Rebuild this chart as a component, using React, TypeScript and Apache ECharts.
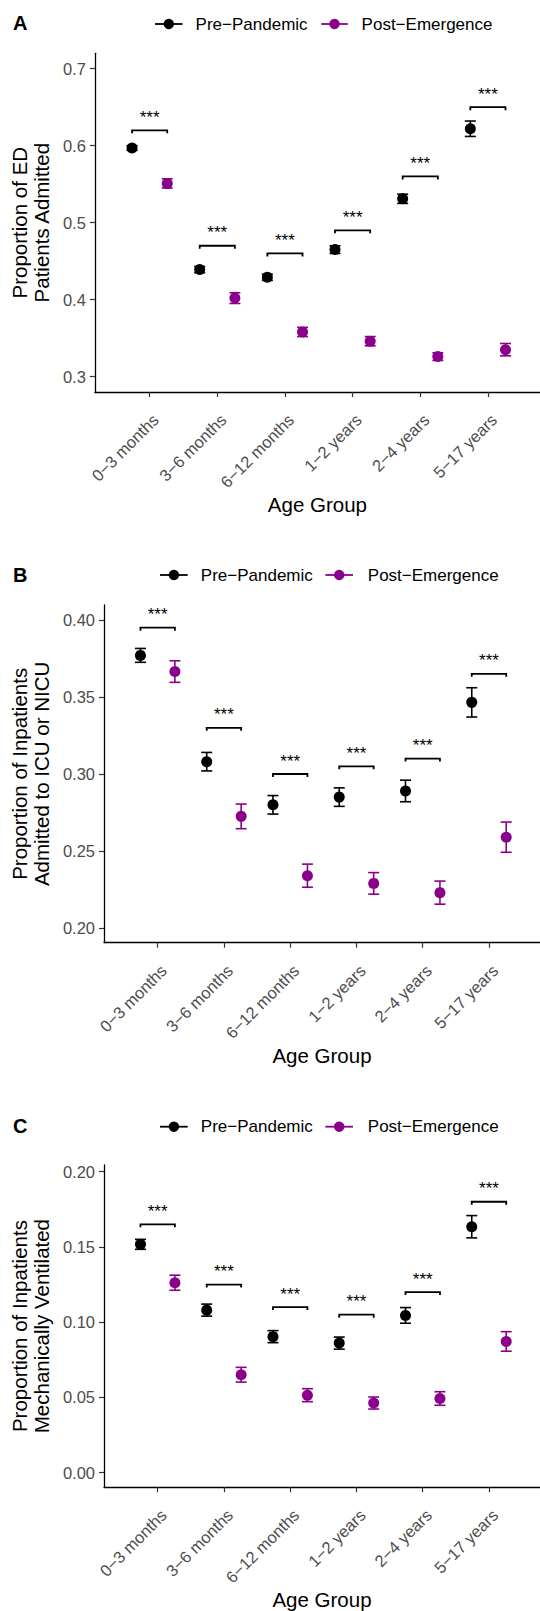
import React, { useEffect, useRef } from 'react';
import * as echarts from 'echarts';

// ---------- data ----------
const AGE_GROUPS = ['0−3 months', '3−6 months', '6−12 months', '1−2 years', '2−4 years', '5−17 years'];
const LEGEND_LABELS = ['Pre−Pandemic', 'Post−Emergence'];
const X_POSITIONS = [1, 2, 3, 4, 5, 6];

const A_PRE = [0.597, 0.439, 0.429, 0.465, 0.531, 0.622];
const A_PRE_ERR = [0.003, 0.004, 0.004, 0.005, 0.006, 0.010];
const A_POST = [0.551, 0.402, 0.358, 0.346, 0.326, 0.335];
const A_POST_ERR = [0.006, 0.007, 0.006, 0.006, 0.005, 0.008];
const A_BRACKETS = [0.62, 0.47, 0.46, 0.49, 0.56, 0.65];
const A_TICKS = [0.3, 0.4, 0.5, 0.6, 0.7];

const B_PRE = [0.377, 0.308, 0.280, 0.285, 0.289, 0.3465];
const B_PRE_ERR = [0.0045, 0.006, 0.006, 0.006, 0.007, 0.0095];
const B_POST = [0.3665, 0.2725, 0.234, 0.229, 0.223, 0.259];
const B_POST_ERR = [0.007, 0.008, 0.0075, 0.007, 0.0075, 0.0098];
const B_BRACKETS = [0.395, 0.33, 0.30, 0.305, 0.31, 0.365];
const B_TICKS = [0.2, 0.25, 0.3, 0.35, 0.4];

const C_PRE = [0.1517, 0.108, 0.0904, 0.0861, 0.1045, 0.1634];
const C_PRE_ERR = [0.0033, 0.004, 0.004, 0.004, 0.0052, 0.0074];
const C_POST = [0.1262, 0.0651, 0.0515, 0.0463, 0.0493, 0.0872];
const C_POST_ERR = [0.005, 0.0049, 0.0043, 0.004, 0.0045, 0.0065];
const C_BRACKETS = [0.165, 0.125, 0.11, 0.105, 0.12, 0.18];
const C_TICKS = [0, 0.05, 0.1, 0.15, 0.2];

const SIG_LABEL = '***';

// ---------- styling ----------
const FONT = '"Liberation Sans", Arial, Helvetica, sans-serif';
const PRE_COLOR = '#000000';
const POST_COLOR = '#8B008B';
const DODGE = 0.26;

const PANELS = [
  {
    letter: 'A', title: 'Proportion of ED\nPatients Admitted',
    pre: A_PRE, preErr: A_PRE_ERR, post: A_POST, postErr: A_POST_ERR, brackets: A_BRACKETS,
    ticks: A_TICKS, decimals: 1, yMin: 0.28, yMax: 0.72,
    left: 92.3, top: 53.3, height: 338.7, nameGapY: 39,
    legendY: 24, letterY: 24, legX: [155, 182.5, 168.8, 195.6, 321.3, 347.8, 334.5, 361.6],
  },
  {
    letter: 'B', title: 'Proportion of Inpatients\nAdmitted to ICU or NICU',
    pre: B_PRE, preErr: B_PRE_ERR, post: B_POST, postErr: B_POST_ERR, brackets: B_BRACKETS,
    ticks: B_TICKS, decimals: 2, yMin: 0.1905, yMax: 0.4097,
    left: 102.3, top: 605, height: 337.7, nameGapY: 49,
    legendY: 575, letterY: 575.5, legX: [160, 187.7, 173.9, 200.8, 325.4, 353, 339.2, 367.8],
  },
  {
    letter: 'C', title: 'Proportion of Inpatients\nMechanically Ventilated',
    pre: C_PRE, preErr: C_PRE_ERR, post: C_POST, postErr: C_POST_ERR, brackets: C_BRACKETS,
    ticks: C_TICKS, decimals: 2, yMin: -0.0096, yMax: 0.2044,
    left: 102.3, top: 1165, height: 329, nameGapY: 49,
    legendY: 1126.7, letterY: 1127, legX: [160, 187.7, 173.9, 200.8, 325.4, 353, 339.2, 367.8],
  },
];

function errorBarRender(color: string) {
  return (params: any, api: any) => {
    const x = api.value(0);
    const lo = api.coord([x, api.value(1)]);
    const hi = api.coord([x, api.value(2)]);
    const w = 5.5;
    const style = { stroke: color, lineWidth: 1.6 };
    return {
      type: 'group',
      children: [
        { type: 'line', shape: { x1: lo[0], y1: lo[1], x2: hi[0], y2: hi[1] }, style },
        { type: 'line', shape: { x1: lo[0] - w, y1: lo[1], x2: lo[0] + w, y2: lo[1] }, style },
        { type: 'line', shape: { x1: hi[0] - w, y1: hi[1], x2: hi[0] + w, y2: hi[1] }, style },
      ],
    };
  };
}

function bracketRender(params: any, api: any) {
  const y = api.value(2);
  const p1 = api.coord([api.value(0), y]);
  const p2 = api.coord([api.value(1), y]);
  return {
    type: 'group',
    children: [
      {
        type: 'polyline',
        shape: { points: [[p1[0], p1[1] + 3], [p1[0], p1[1]], [p2[0], p2[1]], [p2[0], p2[1] + 3]] },
        style: { stroke: '#000', lineWidth: 1.8, fill: 'none' },
      },
      {
        type: 'text',
        style: {
          text: SIG_LABEL, x: (p1[0] + p2[0]) / 2, y: p1[1] - 13,
          fill: '#000', font: `17px ${FONT}`, textAlign: 'center', textVerticalAlign: 'middle',
        },
      },
    ],
  };
}

function buildOption() {
  const grid: any[] = [];
  const xAxis: any[] = [];
  const yAxis: any[] = [];
  const series: any[] = [];
  const graphic: any[] = [];

  PANELS.forEach((p, k) => {
    grid.push({ left: p.left, right: 0, top: p.top, height: p.height });
    xAxis.push({
      type: 'value', gridIndex: k, min: 0.19, max: 6.77,
      name: 'Age Group', nameLocation: 'middle', nameGap: 94,
      nameTextStyle: { fontFamily: FONT, fontSize: 20.5, color: '#000' },
      axisLine: { show: true, onZero: false, lineStyle: { color: '#000', width: 1.3 } },
      axisTick: { show: true, length: 5, customValues: X_POSITIONS, lineStyle: { color: '#333', width: 1.2 } },
      axisLabel: {
        customValues: X_POSITIONS, rotate: 45, margin: 19, verticalAlign: 'top',
        fontFamily: FONT, fontSize: 16.5, color: '#4d4d4d',
        formatter: (v: number) => AGE_GROUPS[Math.round(v) - 1] ?? '',
      },
      splitLine: { show: false },
    });
    yAxis.push({
      type: 'value', gridIndex: k, min: p.yMin, max: p.yMax,
      name: p.title, nameLocation: 'middle', nameGap: p.nameGapY, nameRotate: 90,
      nameTextStyle: { fontFamily: FONT, fontSize: 20.5, color: '#000', lineHeight: 22 },
      axisLine: { show: true, onZero: false, lineStyle: { color: '#000', width: 1.3 } },
      axisTick: { show: true, length: 5, customValues: p.ticks, lineStyle: { color: '#333', width: 1.2 } },
      axisLabel: {
        customValues: p.ticks, margin: 9, fontFamily: FONT, fontSize: 16.5, color: '#4d4d4d',
        formatter: (v: number) => v.toFixed(p.decimals),
      },
      splitLine: { show: false },
    });

    const preX = X_POSITIONS.map((x) => x - DODGE);
    const postX = X_POSITIONS.map((x) => x + DODGE);

    series.push({
      type: 'custom', name: LEGEND_LABELS[0] + ' err', xAxisIndex: k, yAxisIndex: k, z: 2,
      renderItem: errorBarRender(PRE_COLOR),
      data: p.pre.map((v, i) => [preX[i], v - p.preErr[i], v + p.preErr[i]]),
    });
    series.push({
      type: 'custom', name: LEGEND_LABELS[1] + ' err', xAxisIndex: k, yAxisIndex: k, z: 2,
      renderItem: errorBarRender(POST_COLOR),
      data: p.post.map((v, i) => [postX[i], v - p.postErr[i], v + p.postErr[i]]),
    });
    series.push({
      type: 'scatter', name: LEGEND_LABELS[0], xAxisIndex: k, yAxisIndex: k, z: 3,
      symbol: 'circle', symbolSize: 11, itemStyle: { color: PRE_COLOR, opacity: 1 },
      data: p.pre.map((v, i) => [preX[i], v]),
    });
    series.push({
      type: 'scatter', name: LEGEND_LABELS[1], xAxisIndex: k, yAxisIndex: k, z: 3,
      symbol: 'circle', symbolSize: 11, itemStyle: { color: POST_COLOR, opacity: 1 },
      data: p.post.map((v, i) => [postX[i], v]),
    });
    series.push({
      type: 'custom', name: 'significance', xAxisIndex: k, yAxisIndex: k, z: 4,
      renderItem: bracketRender,
      data: p.brackets.map((b, i) => [preX[i], postX[i], b]),
    });

    // panel letter
    graphic.push({
      type: 'text', left: 13, top: p.letterY - 11,
      style: { text: p.letter, font: `bold 20px ${FONT}`, fill: '#000' },
    });
    // legend
    const L = p.legX;
    const items = [
      { x1: L[0], x2: L[1], cx: L[2], tx: L[3], color: PRE_COLOR, label: LEGEND_LABELS[0] },
      { x1: L[4], x2: L[5], cx: L[6], tx: L[7], color: POST_COLOR, label: LEGEND_LABELS[1] },
    ];
    items.forEach((it) => {
      graphic.push({
        type: 'line', shape: { x1: it.x1, y1: p.legendY, x2: it.x2, y2: p.legendY },
        style: { stroke: it.color, lineWidth: 1.8 },
      });
      graphic.push({
        type: 'circle', shape: { cx: it.cx, cy: p.legendY, r: 5.2 },
        style: { fill: it.color },
      });
      graphic.push({
        type: 'text', x: it.tx, y: p.legendY,
        style: { text: it.label, font: `17px ${FONT}`, fill: '#000', textVerticalAlign: 'middle' },
      });
    });
  });

  return {
    animation: false,
    backgroundColor: '#ffffff',
    textStyle: { fontFamily: FONT },
    grid, xAxis, yAxis, series, graphic,
  };
}

export default function App() {
  const ref = useRef<HTMLDivElement>(null);
  useEffect(() => {
    if (!ref.current) return;
    const chart = echarts.init(ref.current, null, { renderer: 'svg' });
    chart.setOption(buildOption() as any);
    return () => chart.dispose();
  }, []);
  return (
    <div
      ref={ref}
      style={{ position: 'absolute', left: 0, top: 0, width: 540, height: 1611, background: '#fff' }}
    />
  );
}
